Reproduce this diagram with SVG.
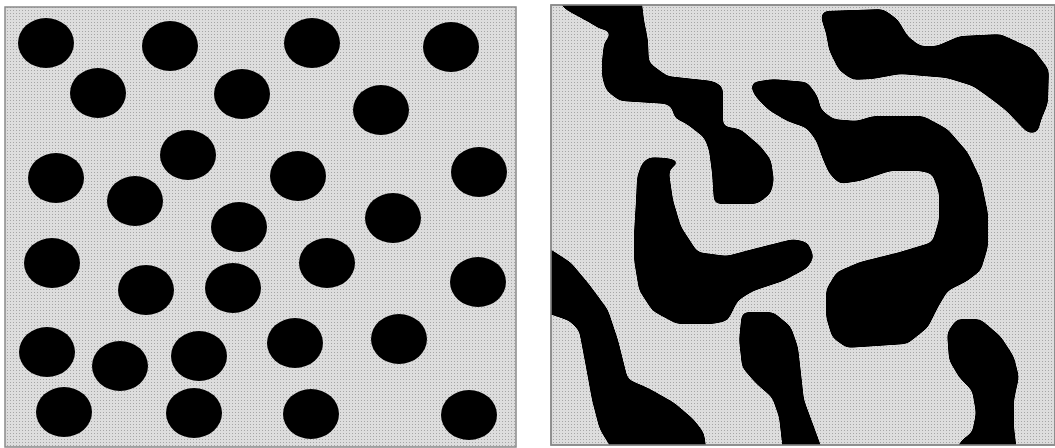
<svg xmlns="http://www.w3.org/2000/svg" width="1055" height="448" viewBox="0 0 1055 448">
<defs>
<pattern id="dots" width="3" height="3" patternUnits="userSpaceOnUse">
<rect width="3" height="3" fill="#dddddd"/>
<rect x="1" y="1" width="1" height="1" fill="#a6a6a6"/>
</pattern>
<clipPath id="rclip"><rect x="551" y="5" width="504" height="440"/></clipPath>
<filter id="smooth" x="-5%" y="-5%" width="110%" height="110%">
<feGaussianBlur in="SourceGraphic" stdDeviation="3.5" result="b"/>
<feComponentTransfer in="b">
<feFuncA type="linear" slope="14" intercept="-6.5"/>
</feComponentTransfer>
</filter>
<style>
.panel{fill:url(#dots);stroke:#8a8a8a;stroke-width:1.5}
.p ellipse{fill:#000}
.blob{fill:#000;stroke:#000;stroke-width:2;stroke-linejoin:round}
</style>
</defs>
<rect width="1055" height="448" fill="#fff"/>
<g id="left-panel">
<rect class="panel" x="5" y="7" width="511" height="440"/>
<g class="p">
<ellipse cx="46" cy="43" rx="28" ry="25"/>
<ellipse cx="170" cy="46" rx="28" ry="25"/>
<ellipse cx="312" cy="43" rx="28" ry="25"/>
<ellipse cx="451" cy="47" rx="28" ry="25"/>
<ellipse cx="98" cy="93" rx="28" ry="25"/>
<ellipse cx="242" cy="94" rx="28" ry="25"/>
<ellipse cx="381" cy="110" rx="28" ry="25"/>
<ellipse cx="188" cy="155" rx="28" ry="25"/>
<ellipse cx="56" cy="178" rx="28" ry="25"/>
<ellipse cx="135" cy="201" rx="28" ry="25"/>
<ellipse cx="298" cy="176" rx="28" ry="25"/>
<ellipse cx="479" cy="172" rx="28" ry="25"/>
<ellipse cx="239" cy="227" rx="28" ry="25"/>
<ellipse cx="393" cy="218" rx="28" ry="25"/>
<ellipse cx="52" cy="263" rx="28" ry="25"/>
<ellipse cx="146" cy="290" rx="28" ry="25"/>
<ellipse cx="233" cy="288" rx="28" ry="25"/>
<ellipse cx="327" cy="263" rx="28" ry="25"/>
<ellipse cx="478" cy="282" rx="28" ry="25"/>
<ellipse cx="47" cy="352" rx="28" ry="25"/>
<ellipse cx="120" cy="366" rx="28" ry="25"/>
<ellipse cx="199" cy="356" rx="28" ry="25"/>
<ellipse cx="295" cy="343" rx="28" ry="25"/>
<ellipse cx="399" cy="339" rx="28" ry="25"/>
<ellipse cx="64" cy="412" rx="28" ry="25"/>
<ellipse cx="194" cy="413" rx="28" ry="25"/>
<ellipse cx="311" cy="414" rx="28" ry="25"/>
<ellipse cx="469" cy="415" rx="28" ry="25"/>
</g>
</g>
<g id="right-panel">
<rect class="panel" x="551" y="5" width="504" height="440"/>
<g clip-path="url(#rclip)">
<g filter="url(#smooth)">
<polygon class="blob" points="556,-5 640,-5 643,20 647,40 648,63 667,77 713,82 722,87 722,127 740,130 760,147 770,160 773,180 770,193 757,203 715,203 713,173 710,150 705,137 687,123 675,117 673,107 667,103 620,100 607,90 603,77 603,60 605,43 612,35 610,30 600,28 587,20 565,8"/>
<polygon class="blob" points="823,12 883,10 897,20 907,37 920,47 937,47 960,37 1000,35 1033,50 1048,70 1047,103 1040,120 1037,132 1028,132 1007,110 990,97 973,85 947,77 900,73 873,78 853,79 840,70 830,50 827,33 822,18"/>
<polygon class="blob" points="753,83 773,80 807,83 817,97 820,110 833,120 857,122 873,117 923,117 947,130 967,153 980,180 987,213 987,247 980,270 967,280 947,290 937,307 927,327 907,343 847,347 833,337 827,317 827,290 837,273 860,263 900,253 933,243 940,220 940,193 933,173 920,170 890,170 860,180 840,183 830,173 823,157 817,140 807,127 787,120 770,110 757,97 752,88"/>
<polygon class="blob" points="650,158 667,159 680,162 670,167 668,173 672,200 680,227 697,253 727,257 753,250 793,240 807,243 813,257 807,267 783,280 753,290 737,300 727,320 713,323 677,323 653,310 640,290 635,260 635,233 637,200 638,177 643,163"/>
<polygon class="blob" points="535,245 550,250 570,263 590,287 607,310 617,340 627,380 650,390 673,403 693,420 703,433 707,460 620,460 603,433 600,427 593,400 587,367 580,330 570,320 550,313 535,313"/>
<polygon class="blob" points="743,313 773,313 790,327 797,347 800,373 803,400 813,427 825,460 785,460 780,417 773,397 757,383 743,367 740,340 742,320"/>
<polygon class="blob" points="957,320 980,320 1000,337 1013,357 1018,377 1013,400 1013,427 1017,460 950,460 963,440 973,433 977,413 973,390 960,377 950,360 948,333"/>
</g>
</g>
<rect x="551" y="5" width="504" height="440" fill="none" stroke="#8a8a8a" stroke-width="1.5"/>
</g>
</svg>
